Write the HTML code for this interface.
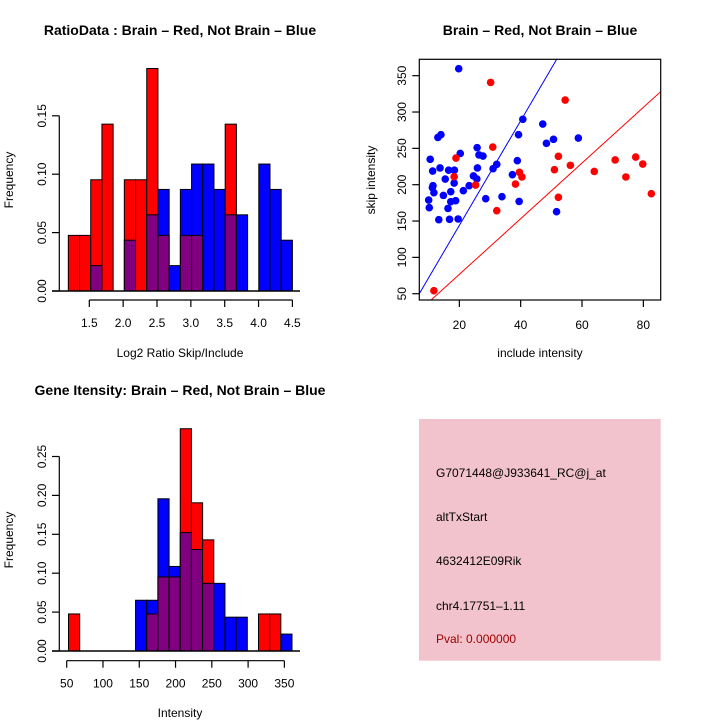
<!DOCTYPE html>
<html><head><meta charset="utf-8"><style>
body{margin:0;background:#fff}
svg{display:block;font-family:"Liberation Sans",Arial,sans-serif}
</style></head><body>
<svg id="c" width="720" height="720" viewBox="0 0 720 720"></svg>
<script>
// ---- Ratio histogram data (20 bins, 1.19..4.5)
const ratioBinStart = 1.19, ratioBinWidth = 0.1655;
const ratioRed = [1,1,2,3,0,2,2,4,1,0,1,1,0,0,3,0,0,0,0,0];   // counts of 21
const ratioBlue = [0,0,1,0,0,2,0,3,4,1,4,5,5,4,3,3,0,5,4,2]; // counts of 46
const ratioXTicks = [1.5,2.0,2.5,3.0,3.5,4.0,4.5];
const ratioYTicks = [0,0.05,0.10,0.15];
// ---- Intensity histogram data
const intBinStart = 52.5, intBinWidth = 15.4;
const intRed = [1,0,0,0,0,0,0,1,2,2,6,4,3,0,0,0,0,1,1,0];
const intBlue = [0,0,0,0,0,0,3,3,9,5,7,6,4,4,2,2,0,0,0,1];
const intXTicks = [50,100,150,200,250,300,350];
const intYTicks = [0,0.05,0.10,0.15,0.20,0.25];
const redTotal = 21, blueTotal = 46;
// ---- Scatter data
const blueX = [19.8,40.7,47.2,50.7,48.4,58.8,39.3,13.0,14.0,20.3,25.8,26.4,27.7,10.5,38.9,32.2,31.0,13.7,25.9,11.3,16.5,18.4,37.3,24.6,25.7,15.4,18.3,11.2,11.4,23.2,21.3,11.7,17.2,14.8,10.0,33.9,28.6,17.2,18.8,39.5,10.2,16.3,51.7,13.3,16.8,19.6];
const blueY = [359.6,290,283.5,262.4,256.9,264.2,268.8,265,268.8,243,251,241,239.4,234.9,233,228,222,223,223,218.8,220,220,213.8,212,208,207.8,202.3,195.9,198.6,198.6,191.7,189,190.4,185.3,178.9,183.5,180.7,176.6,178,177,168.3,167.4,162.8,151.8,152.3,152.8];
const redX = [30.2,54.5,30.9,18.9,52.3,56.2,51.0,39.6,40.4,18.3,38.3,25.3,32.2,52.3,64.0,70.8,74.3,77.5,79.8,82.6,11.7];
const redY = [340.8,316.5,251.8,236.7,239,226.6,220.6,217,210.6,211,200.9,199.5,164.2,182.6,218.3,234,210.6,238,228.4,187.6,54.1];
const scXTicks = [20,40,60,80];
const scYTicks = [50,100,150,200,250,300,350];
const blueSlope = 7.2, redSlope = 3.83;

const svg = document.getElementById('c');
const NS = 'http://www.w3.org/2000/svg';
function mk(tag, attrs, parent, text){
  const e = document.createElementNS(NS, tag);
  for (const k in attrs) e.setAttribute(k, attrs[k]);
  if (text !== undefined) e.textContent = text;
  (parent || svg).appendChild(e);
  return e;
}
function txt(x,y,s,opt,parent){
  opt = opt||{};
  const t = mk('text',{x:x,y:y,'font-size':opt.size||12,'text-anchor':opt.anchor||'middle','dominant-baseline':'central',fill:opt.fill||'#000','font-weight':opt.bold?'bold':'normal',transform:opt.rot?`rotate(-90 ${x} ${y})`:''},parent,s);
  return t;
}

function histogram(name, cfg){
  const g = mk('g',{});
  
  
  const sx = v => cfg.x0 + (v - cfg.xv0) * cfg.kx;
  const sy = v => cfg.y0 - v * cfg.ky;
  for (let i=0;i<cfg.red.length;i++){
    const r = cfg.red[i]/redTotal, b = cfg.blue[i]/blueTotal;
    const xa = sx(cfg.bs + i*cfg.bw), xb = sx(cfg.bs + (i+1)*cfg.bw);
    const hi = Math.max(r,b);
    if (hi>0){
      const bar = mk('rect',{x:xa,y:sy(hi),width:xb-xa,height:sy(0)-sy(hi),fill:r>=b?'#ff0000':'#0000ff',stroke:'#000','stroke-width':1},g);
      
      
      const lo = Math.min(r,b);
      if (lo>0){
        const ov = mk('rect',{x:xa,y:sy(lo),width:xb-xa,height:sy(0)-sy(lo),fill:'#800080',stroke:'#000','stroke-width':1},g);
        
        
      }
    }
  }
  mk('line',{x1:52,x2:cfg.baseEnd,y1:cfg.y0,y2:cfg.y0,stroke:'#000','stroke-width':1.5},g);
  // y axis
  const yt = cfg.yTicks;
  mk('line',{x1:59.3,x2:59.3,y1:sy(yt[0]),y2:sy(yt[yt.length-1]),stroke:'#000','stroke-width':1.2},g);
  yt.forEach(v=>{
    mk('line',{x1:52,x2:59.3,y1:sy(v),y2:sy(v),stroke:'#000','stroke-width':1.2},g);
    const t = txt(42,sy(v),v.toFixed(2),{rot:true},g);
    
    
  });
  const xt = cfg.xTicks;
  mk('line',{x1:sx(xt[0]),x2:sx(xt[xt.length-1]),y1:cfg.axY,y2:cfg.axY,stroke:'#000','stroke-width':1.2},g);
  xt.forEach(v=>{
    mk('line',{x1:sx(v),x2:sx(v),y1:cfg.axY,y2:cfg.axY+7,stroke:'#000','stroke-width':1.2},g);
    const t = txt(sx(v),cfg.axY+23,cfg.fmt(v),{},g);
    
    
  });
}

histogram('ratio-histogram',{x0:89.3,xv0:1.5,kx:67.7,y0:291,ky:58.4/0.05,bs:ratioBinStart,bw:ratioBinWidth,red:ratioRed,blue:ratioBlue,yTicks:ratioYTicks,xTicks:ratioXTicks,axY:300,baseEnd:300,fmt:v=>v.toFixed(1)});
histogram('intensity-histogram',{x0:66.7,xv0:50,kx:0.7256,y0:651,ky:38.9/0.05,bs:intBinStart,bw:intBinWidth,red:intRed,blue:intBlue,yTicks:intYTicks,xTicks:intXTicks,axY:660.7,baseEnd:300,fmt:v=>String(v)});

// titles & labels
let t;
t = txt(180,30,'RatioData : Brain \u2013 Red, Not Brain \u2013 Blue',{size:14,bold:true});
 
t = txt(180,353,'Log2 Ratio Skip/Include',{});
 
t = txt(9,180,'Frequency',{rot:true});
 
t = txt(180,390,'Gene Itensity: Brain \u2013 Red, Not Brain \u2013 Blue',{size:14,bold:true});
 
t = txt(180,713,'Intensity',{});
 
t = txt(9,540,'Frequency',{rot:true});
 

// scatter
const sg = mk('g',{});


const px = v => 398 + v*3.067;
const py = v => 293.7 - (v-50)*0.7267;
const L=419.3,R=660.7,T=59.3,B=300;
const cp = mk('clipPath',{id:'clip'},sg);
mk('rect',{x:L,y:T,width:R-L,height:B-T},cp);
blueX.forEach((v,i)=>{
  const c = mk('circle',{cx:px(v),cy:py(blueY[i]),r:3.8,fill:'#0000ff'},sg);
  
  
});
redX.forEach((v,i)=>{
  const c = mk('circle',{cx:px(v),cy:py(redY[i]),r:3.8,fill:'#ff0000'},sg);
  
  
});
let ln = mk('line',{x1:px(0),y1:py(0),x2:px(100),y2:py(100*blueSlope),stroke:'#0000ff','stroke-width':1,'clip-path':'url(#clip)'},sg);
 
ln = mk('line',{x1:px(0),y1:py(0),x2:px(100),y2:py(100*redSlope),stroke:'#ff0000','stroke-width':1,'clip-path':'url(#clip)'},sg);
 
mk('rect',{x:L,y:T,width:R-L,height:B-T,fill:'none',stroke:'#000','stroke-width':1.2},sg);
scXTicks.forEach(v=>{
  mk('line',{x1:px(v),x2:px(v),y1:B,y2:B+7,stroke:'#000','stroke-width':1.2},sg);
  const t2 = txt(px(v),325,String(v),{},sg);
   
});
scYTicks.forEach(v=>{
  mk('line',{x1:L-7,x2:L,y1:py(v),y2:py(v),stroke:'#000','stroke-width':1.2},sg);
  const t2 = txt(402,py(v),String(v),{rot:true},sg);
   
});
t = txt(540,30,'Brain \u2013 Red, Not Brain \u2013 Blue',{size:14,bold:true});
 
t = txt(540,353,'include intensity',{});
 
t = txt(371,180,'skip intensity',{rot:true});
 

// info box
const ig = mk('g',{});


mk('rect',{x:419,y:419,width:241.7,height:241.7,fill:'#f2c3cd'},ig);
const infoLines = [['G7071448@J933641_RC@j_at',473,'#000'],['altTxStart',517,'#000'],['4632412E09Rik',561,'#000'],['chr4.17751\u20131.11',606,'#000'],['Pval: 0.000000',639,'#a00000']];
infoLines.forEach(l=>{
  const t2 = txt(436,l[1],l[0],{anchor:'start',fill:l[2]},ig);
  
  
});
</script>
</body></html>
